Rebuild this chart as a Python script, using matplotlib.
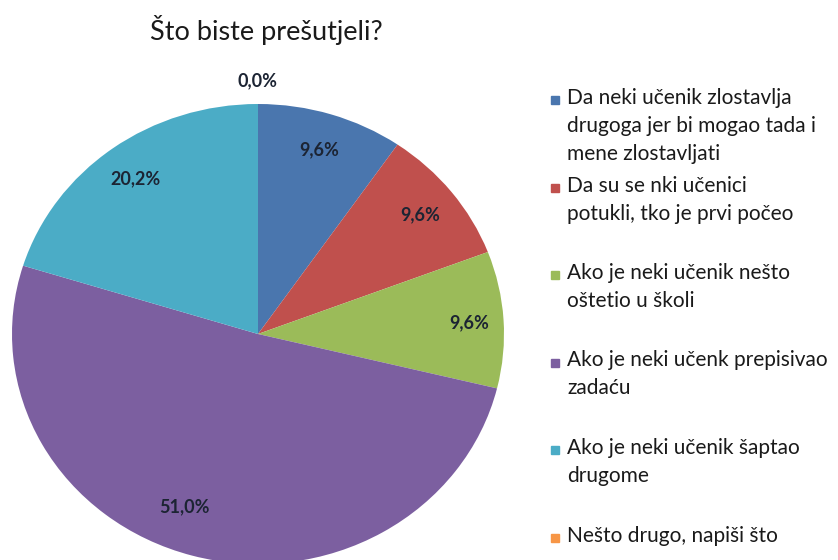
import matplotlib.pyplot as plt
from matplotlib.patches import Rectangle

plt.rcParams['font.family'] = ['Lato', 'DejaVu Sans']

TITLE = 'Što biste prešutjeli?'
LABELS = [
    'Da neki učenik zlostavlja\ndrugoga jer bi mogao tada i\nmene zlostavljati',
    'Da su se nki učenici\npotukli, tko je prvi počeo',
    'Ako je neki učenik nešto\noštetio u školi',
    'Ako je neki učenk prepisivao\nzadaću',
    'Ako je neki učenik šaptao\ndrugome',
    'Nešto drugo, napiši što',
]
VALUES = [9.6, 9.6, 9.6, 51.0, 20.2, 0.0]
COLORS = ['#4A76AE', '#C0504D', '#9BBB59', '#7C5FA0', '#4BACC6', '#F79646']

W, H = 838, 560
fig = plt.figure(figsize=(W / 100, H / 100), dpi=100, facecolor='white')

# pie centre ~ (258, 334) px, slightly wider than tall
cx, cy, rx, ry = 258, 334, 246, 230
ax = fig.add_axes([(cx - rx) / W, (H - cy - ry) / H, 2 * rx / W, 2 * ry / H])

wedges, texts, autotexts = ax.pie(
    VALUES, colors=COLORS, startangle=90, counterclock=False,
    autopct=lambda p: f'{p:.1f}%'.replace('.', ','), pctdistance=0.84,
    textprops=dict(fontsize=13, color='#1c2433', fontweight='bold'))
ax.set_aspect('auto')
ax.set_xlim(-1, 1)
ax.set_ylim(-1, 1)
for w in wedges:
    w.set_clip_on(False)

# zero-size slice label sits just above the top of the pie
autotexts[-1].set_position((0, 1.1))
autotexts[2].set_position((0.86, 0.05))
autotexts[3].set_position((-0.3, -0.75))

fig.text(266 / W, 1 - 30 / H, TITLE, ha='center', va='center',
         fontsize=19.5, color='#1a1a1a')

# legend: entries equally spaced, square aligned with first line
top = 100
step = 87.5
for i, (lab, col) in enumerate(zip(LABELS, COLORS)):
    y = top + i * step
    fig.patches.append(Rectangle((551 / W, 1 - (y + 4) / H), 8 / W, 8 / H,
                                 transform=fig.transFigure, color=col))
    fig.text(567 / W, 1 - (y - 12) / H, lab, ha='left', va='top',
             fontsize=15, color='#1a1a1a', linespacing=1.5)

fig.savefig('out.png', dpi=100, facecolor='white')
